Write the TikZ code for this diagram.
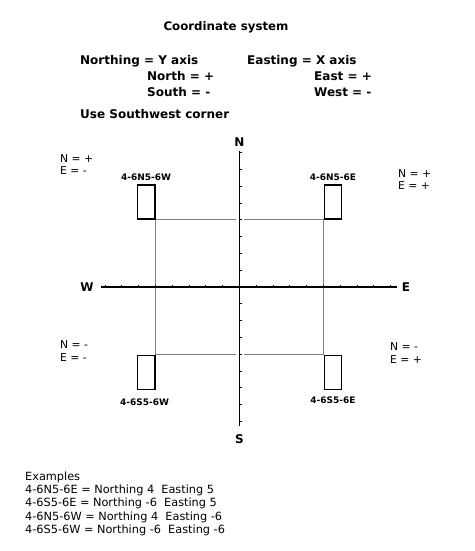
\documentclass[tikz,border=0pt]{standalone}
\usepackage{fontspec}
\setmainfont{DejaVu Sans}
\usetikzlibrary{positioning,calc}

\begin{document}
\begin{tikzpicture}[
    x=1pt, y=-1pt,
    every node/.style={inner sep=0pt},
    head/.style={font=\fontsize{12}{14}\selectfont\bfseries, anchor=base west},
    compass/.style={font=\fontsize{12}{14}\selectfont\bfseries},
    sign/.style={font=\fontsize{10.8}{12}\selectfont, anchor=base west},
    platebox/.style={draw, line width=1.2pt, minimum width=17.5pt, minimum height=34pt},
    platelabel/.style={font=\fontsize{9}{10}\selectfont\bfseries},
    axis/.style={line width=1.4pt},
    tickmark/.style={line width=0.9pt},
    gridline/.style={draw=gray, line width=0.9pt},
    example/.style={font=\fontsize{11.3}{13}\selectfont, anchor=base west},
]
\useasboundingbox (0,0) rectangle (474,551);

% --- Header text ----------------------------------------------------
\node[compass, font=\fontsize{11.8}{14}\selectfont\bfseries] (title) at (226,27) {Coordinate system};
\node[head] (northing) at (80,64)  {Northing = Y axis};
\node[head] (easting)  at (247,64) {Easting = X axis};
\node[head] (northp)   at (147,80) {North = +};
\node[head] (southm)   at (147,96) {South = -};
\node[head] (eastp)    at (314,80) {East = +};
\node[head] (westm)    at (314,96) {West = -};
\node[head] (corner)   at (80,118) {Use Southwest corner};

% --- Plates (outside each grid corner) ------------------------------
\coordinate (o) at (239.5,287);
\node[platebox, anchor=south east] (nw) at (155.5,219.5) {};
\node[platebox, anchor=south west] (ne) at (323.5,219.5) {};
\node[platebox, anchor=north east] (sw) at (155.5,354.5) {};
\node[platebox, anchor=north west] (se) at (323.5,354.5) {};
\node[platelabel, above=3pt of nw] (nwlab) {4-6N5-6W};
\node[platelabel, above=3pt of ne] (nelab) {4-6N5-6E};
\node[platelabel, below=8.5pt of sw, xshift=-1.5pt] (swlab) {4-6S5-6W};
\node[platelabel, below=7pt of se] (selab) {4-6S5-6E};

% --- Grey grid between the plates ------------------------------------
\draw[gridline, shorten >=4pt] (nw.south east) -- (nw.south east -| o);
\draw[gridline, shorten >=4pt] (ne.south west) -- (ne.south west -| o);
\draw[gridline, shorten >=4pt] (sw.north east) -- (sw.north east -| o);
\draw[gridline, shorten >=4pt] (se.north west) -- (se.north west -| o);
\draw[gridline] (nw.south east) -- (sw.north east);
\draw[gridline] (ne.south west) -- (se.north west);

% --- Axes -----------------------------------------------------------
\node[compass] (north) at (239.5,142) {N};
\node[compass] (south) at (239.5,439) {S};
\node[compass] (west)  at (87,287)    {W};
\node[compass] (east)  at (406,287)   {E};
\draw[axis, shorten <=4pt, shorten >=8pt] (north) -- (south);
\draw[axis, line width=1.1pt, shorten <=7.5pt, shorten >=4.5pt] (west) -- (east);
\foreach \k in {-8,...,9}
  \draw[tickmark] ($(o)+(16.8*\k,0)$) -- ++(0,-2.5);
\foreach \k in {-8,...,8}
  \draw[tickmark] ($(o)+(0,-16.8*\k)$) -- ++(2.5,0);

% --- Quadrant signs -------------------------------------------------
\node[sign] (nwN) at (60,162)    {N = +};
\node[sign] (nwE) at (60,174)    {E = -};
\node[sign] (neN) at (398,177)   {N = +};
\node[sign] (neE) at (398,189)   {E = +};
\node[sign] (swN) at (60,348.5)  {N = -};
\node[sign] (swE) at (60,361.5)  {E = -};
\node[sign] (seN) at (390,350.5) {N = -};
\node[sign] (seE) at (390,363.5) {E = +};

% --- Examples -------------------------------------------------------
\foreach \txt [count=\i from 0] in {Examples,
    4-6N5-6E = Northing 4\ \ Easting 5,
    4-6S5-6E = Northing -6\ \ Easting 5,
    4-6N5-6W = Northing 4\ \ Easting -6,
    4-6S5-6W = Northing -6\ \ Easting -6}
  \node[example] (ex\i) at (25,480.5+13.2*\i) {\txt};
\end{tikzpicture}
\end{document}
